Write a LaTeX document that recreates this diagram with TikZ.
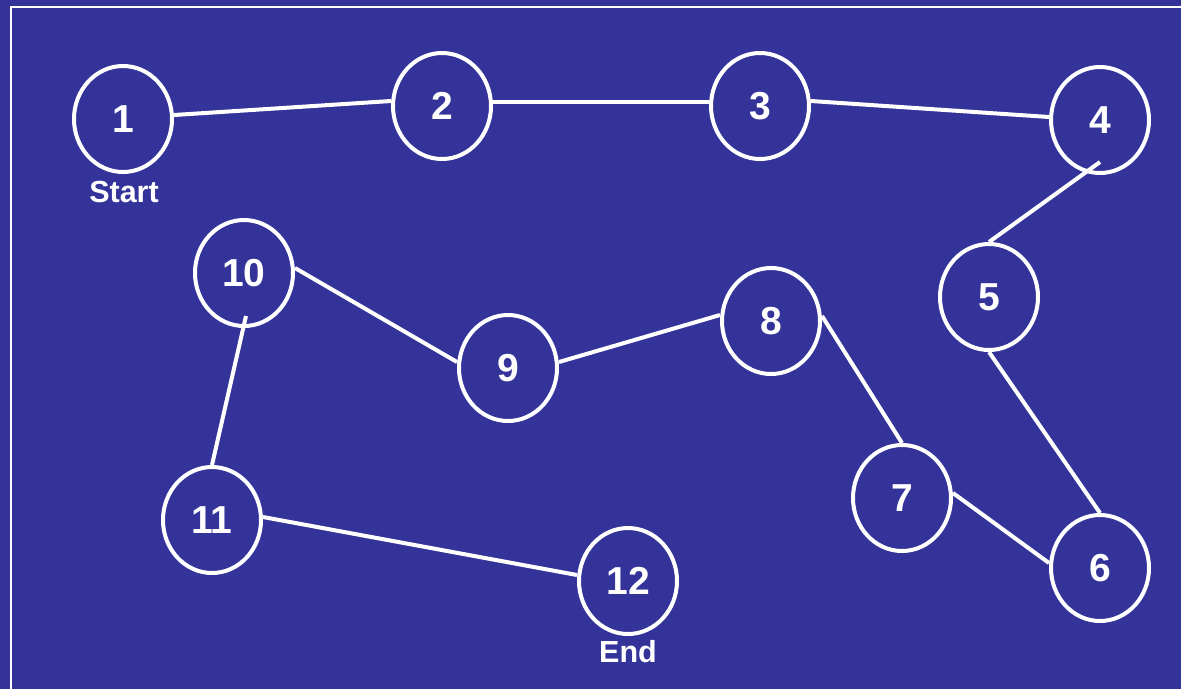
\documentclass[tikz,border=0pt]{standalone}
\usepackage{fontspec}
\setmainfont{Liberation Sans}
\usetikzlibrary{shapes.geometric,calc}
\definecolor{bgblue}{RGB}{51,51,153}
\tikzset{
  stop/.style={ellipse, draw=white, line width=4pt, minimum width=98pt, minimum height=106pt, inner sep=0pt,
    text=white, font=\fontsize{39}{40}\selectfont\bfseries},
  lbl/.style={text=white, font=\fontsize{30.5}{32}\selectfont\bfseries, inner sep=0pt},
  link/.style={draw=white, line width=4pt}
}
\begin{document}
\begin{tikzpicture}[x=1pt,y=-1pt]
\useasboundingbox (0,0) rectangle (1181,689);
\fill[bgblue] (0,0) rectangle (1181,689);
\draw[white, line width=2.4pt] (11,6.8) rectangle (1200,710);
\node[stop] (n1) at (123,119) {1};
\node[stop] (n2) at (442,106) {2};
\node[stop] (n3) at (760,106) {3};
\node[stop] (n4) at (1100,120) {4};
\node[stop] (n5) at (989,297) {5};
\node[stop] (n6) at (1100,568) {6};
\node[stop] (n7) at (902,498) {7};
\node[stop] (n8) at (771,321) {8};
\node[stop] (n9) at (508,368) {9};
\node[stop] (n10) at (244,273) {10};
\node[stop] (n11) at (212,520) {11};
\node[stop] (n12) at (628,581) {12};
\node[lbl] (start) at (124,192) {Start};
\node[lbl] (end) at (628,652) {End};
\coordinate (a4) at ($(n4)+(0,42)$);
\coordinate (a10) at ($(n10)+(2,43)$);
\draw[link] ($(n1.east)+(0,-4)$) -- ($(n2.west)+(0,-5)$);
\draw[link] ($(n2.east)+(0,-4)$) -- ($(n3.west)+(0,-4)$);
\draw[link] ($(n3.east)+(0,-5)$) -- ($(n4.west)+(0,-3)$);
\draw[link] (a4) -- (n5.north);
\draw[link] (n5.south) -- (n6.north);
\draw[link] ($(n7.east)+(0,-5)$) -- ($(n6.west)+(0,-5)$);
\draw[link] ($(n8.east)+(0,-5)$) -- (n7.north);
\draw[link] ($(n9.east)+(0,-6)$) -- ($(n8.west)+(0,-6)$);
\draw[link] ($(n10.east)+(0,-5)$) -- ($(n9.west)+(0,-6)$);
\draw[link] (a10) -- (n11.north);
\draw[link] ($(n11.east)+(0,-3)$) -- ($(n12.west)+(0,-6)$);
\end{tikzpicture}
\end{document}
